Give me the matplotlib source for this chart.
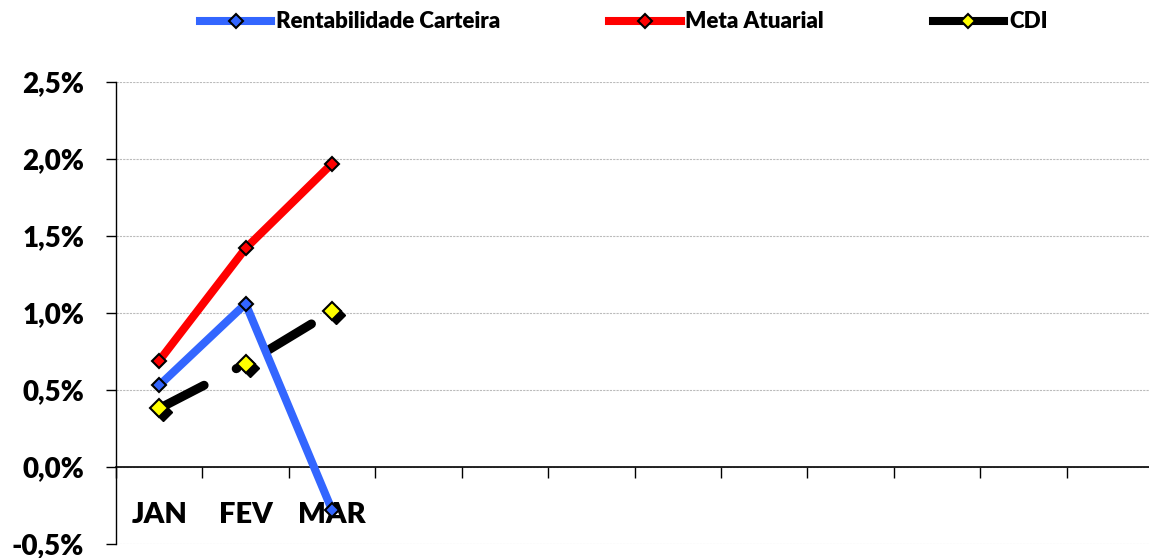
import matplotlib
matplotlib.use('Agg')
import matplotlib.pyplot as plt
import matplotlib.transforms as mtransforms
from matplotlib.lines import Line2D
from matplotlib.ticker import FuncFormatter, MultipleLocator, FixedLocator

plt.rcParams['font.family'] = ['Lato', 'DejaVu Sans']
plt.rcParams['font.weight'] = 'heavy'

# meses do ano (so os tres primeiros tem dados)
MESES = ['JAN', 'FEV', 'MAR', '', '', '', '', '', '', '', '', '']

# rentabilidade mensal em %
RENTABILIDADE = [0.53, 1.06, -0.28]
META_ATUARIAL = [0.69, 1.42, 1.97]
CDI = [0.38, 0.67, 1.01]

AZUL = '#3366FF'
VERMELHO = '#FF0000'
AMARELO = '#FFFF00'

W, H = 1149, 558
fig = plt.figure(figsize=(W / 100, H / 100), dpi=100)
ax = fig.add_axes([116 / W, 14 / H, 1037 / W, 462 / H])

x = list(range(len(MESES)))

# CDI: linha tracejada preta com marcador amarelo e sombra
sombra = mtransforms.offset_copy(ax.transData, fig=fig, x=4, y=-4, units='dots')
ax.plot(x[:len(CDI)], CDI, linestyle='none', marker='D', markersize=9,
        markerfacecolor='black', markeredgecolor='black', transform=sombra, zorder=3)
ax.plot(x[:len(CDI)], CDI, color='black', linewidth=6.5, dashes=(5.6, 4.0, 0.1, 4.0),
        dash_capstyle='round', zorder=3)
ax.plot(x[:len(CDI)], CDI, linestyle='none', marker='D', markersize=9,
        markerfacecolor=AMARELO, markeredgecolor='black', markeredgewidth=1.5, zorder=3.1)

ax.plot(x[:len(RENTABILIDADE)], RENTABILIDADE, color=AZUL, linewidth=5.8, marker='D',
        markersize=7.5, markerfacecolor=AZUL, markeredgecolor='black',
        markeredgewidth=1.5, zorder=3.2)
ax.plot(x[:len(META_ATUARIAL)], META_ATUARIAL, color=VERMELHO, linewidth=5.8, marker='D',
        markersize=7.5, markerfacecolor=VERMELHO, markeredgecolor='black',
        markeredgewidth=1.5, zorder=3.2)

ax.set_xlim(-0.5, len(MESES) - 0.5)
ax.set_ylim(-0.5, 2.5)

ax.yaxis.set_major_locator(MultipleLocator(0.5))
ax.yaxis.set_major_formatter(FuncFormatter(lambda v, p: f'{v:.1f}%'.replace('.', ',')))
ax.grid(axis='y', color='#BBBBBB', linestyle=(0, (2, 1)), linewidth=0.8)
ax.set_axisbelow(True)

ax.set_xticks(x)
ax.set_xticklabels(MESES)
ax.xaxis.set_minor_locator(FixedLocator([i - 0.5 for i in range(len(MESES) + 1)]))
ax.tick_params(axis='x', which='major', length=0, pad=25, labelsize=21)
ax.tick_params(axis='x', which='minor', length=8, width=1, direction='out')
ax.tick_params(axis='y', length=7, width=1, direction='out', pad=16, labelsize=20)

ax.spines['top'].set_visible(False)
ax.spines['right'].set_visible(False)
ax.spines['bottom'].set_position(('data', 0))
ax.spines['left'].set_linewidth(1)
ax.spines['bottom'].set_linewidth(1.2)

handles = [
    Line2D([], [], color=AZUL, linewidth=5.8, marker='D', markersize=7,
           markerfacecolor=AZUL, markeredgecolor='black', markeredgewidth=1.5),
    Line2D([], [], color=VERMELHO, linewidth=5.8, marker='D', markersize=7,
           markerfacecolor=VERMELHO, markeredgecolor='black', markeredgewidth=1.5),
    Line2D([], [], color='black', linewidth=5.8, marker='D', markersize=7,
           markerfacecolor=AMARELO, markeredgecolor='black', markeredgewidth=1.5),
]
fig.legend(handles, ['Rentabilidade Carteira', 'Meta Atuarial', 'CDI'],
           loc='center', bbox_to_anchor=(0.543, 1 - 22 / H), ncol=3, frameon=False,
           fontsize=16, handlelength=3.2, handletextpad=0.22, columnspacing=4.9,
           borderpad=0, borderaxespad=0)

fig.savefig('out.png', dpi=100)
